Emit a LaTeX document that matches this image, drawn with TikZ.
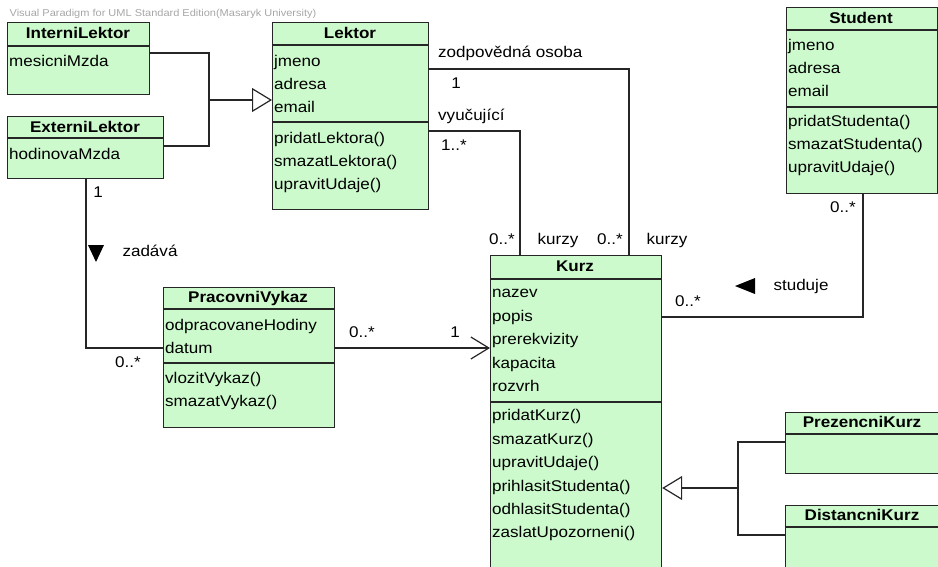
\documentclass[tikz,border=0pt]{standalone}
\usepackage{fontspec}
\setmainfont{Liberation Sans}[FakeStretch=1.1]
\usetikzlibrary{arrows.meta}
\definecolor{zelena}{RGB}{204,250,204}

\begin{document}
\fontsize{15.5}{18}\selectfont
\begin{tikzpicture}[x=1pt,y=-1pt,
  trida/.style={draw=black!85, fill=zelena, line width=1.2pt, anchor=north west, inner sep=0pt},
  nazev/.style={font=\bfseries, inner sep=0pt, text height=11pt, text depth=3pt},
  polozka/.style={anchor=west, inner sep=0pt, text height=11pt, text depth=3pt},
  pozn/.style={inner sep=0pt, text height=11pt, text depth=3pt},
  spoj/.style={line width=1.2pt, black!85},
  dedi/.style={spoj, -{Triangle[open, length=20pt, width=24pt]}}]
\useasboundingbox (0,0) rectangle (938,566);
% hlavicka
\node[font=\fontsize{10}{12}\selectfont, text=black!35, inner sep=0pt] (vp) at (163,14) {Visual Paradigm for UML Standard Edition(Masaryk University)};

% InterniLektor
\node[trida, minimum width=142pt, minimum height=72pt] (IL) at (7,22) {};
\draw[spoj] (7,46) -- (149,46);
\node[nazev] (ILn) at (78,34) {InterniLektor};
\node[polozka] (ILa) at (9,62) {mesicniMzda};

% ExterniLektor
\node[trida, minimum width=156pt, minimum height=62pt] (EL) at (7,116) {};
\draw[spoj] (7,138) -- (163,138);
\node[nazev] (ELn) at (85,128) {ExterniLektor};
\node[polozka] (ELa) at (9,155) {hodinovaMzda};

% Lektor
\node[trida, minimum width=156pt, minimum height=187pt] (LK) at (272,22) {};
\draw[spoj] (272,45) -- (428,45);
\draw[spoj] (272,122) -- (428,122);
\node[nazev] (LKn) at (350,34) {Lektor};
\node[polozka] (LKa) at (274,62) {jmeno};
\node[polozka] (LKb) at (274,85) {adresa};
\node[polozka] (LKc) at (274,108) {email};
\node[polozka] (LKd) at (274,139) {pridatLektora()};
\node[polozka] (LKe) at (274,162) {smazatLektora()};
\node[polozka] (LKf) at (274,185) {upravitUdaje()};

% Student
\node[trida, minimum width=151pt, minimum height=186pt] (ST) at (786,7) {};
\draw[spoj] (786,30) -- (937,30);
\draw[spoj] (786,107) -- (937,107);
\node[nazev] (STn) at (861,19) {Student};
\node[polozka] (STa) at (788,46) {jmeno};
\node[polozka] (STb) at (788,69) {adresa};
\node[polozka] (STc) at (788,92) {email};
\node[polozka] (STd) at (788,122) {pridatStudenta()};
\node[polozka] (STe) at (788,145) {smazatStudenta()};
\node[polozka] (STf) at (788,168) {upravitUdaje()};

% Kurz
\node[trida, minimum width=171pt, minimum height=315pt] (KZ) at (490,255) {};
\draw[spoj] (490,279) -- (661,279);
\draw[spoj] (490,402) -- (661,402);
\node[nazev] (KZn) at (575,267) {Kurz};
\node[polozka] (KZa) at (492,293) {nazev};
\node[polozka] (KZb) at (492,317) {popis};
\node[polozka] (KZc) at (492,340) {prerekvizity};
\node[polozka] (KZd) at (492,364) {kapacita};
\node[polozka] (KZe) at (492,387) {rozvrh};
\node[polozka] (KZf) at (492,416) {pridatKurz()};
\node[polozka] (KZg) at (492,440) {smazatKurz()};
\node[polozka] (KZh) at (492,463) {upravitUdaje()};
\node[polozka] (KZi) at (492,487) {prihlasitStudenta()};
\node[polozka] (KZj) at (492,510) {odhlasitStudenta()};
\node[polozka] (KZk) at (492,533) {zaslatUpozorneni()};

% PracovniVykaz
\node[trida, minimum width=171pt, minimum height=140pt] (PV) at (163,287) {};
\draw[spoj] (163,309) -- (334,309);
\draw[spoj] (163,363) -- (334,363);
\node[nazev] (PVn) at (248,298) {PracovniVykaz};
\node[polozka] (PVa) at (165,326) {odpracovaneHodiny};
\node[polozka] (PVb) at (165,349) {datum};
\node[polozka] (PVc) at (165,379) {vlozitVykaz()};
\node[polozka] (PVd) at (165,402) {smazatVykaz()};

% PrezencniKurz, DistancniKurz
\node[trida, minimum width=155pt, minimum height=61pt] (PK) at (785,412) {};
\draw[spoj] (785,434) -- (940,434);
\node[nazev] (PKn) at (862,423) {PrezencniKurz};
\node[trida, minimum width=155pt, minimum height=65pt] (DK) at (785,505) {};
\draw[spoj] (785,527) -- (940,527);
\node[nazev] (DKn) at (862,516) {DistancniKurz};

% dedicnost
\coordinate (gL) at (209,100);
\draw[spoj] ([yshift=-31pt]IL.north east) -| (gL);
\draw[spoj] ([yshift=-30pt]EL.north east) -| (gL);
\draw[dedi] (gL) -- (gL -| LK.west);
\coordinate (gK) at (738,488);
\draw[spoj] ([yshift=-30pt]PK.north west) -| (gK);
\draw[spoj] ([yshift=-30pt]DK.north west) -| (gK);
\draw[dedi] (gK) -- (gK -| KZ.east);

% asociace
\draw[spoj] ([yshift=-47pt]LK.north east) -| ([xshift=139pt]KZ.north west);
\node[pozn, anchor=west] (r1) at (438,53) {zodpovědná osoba};
\node[pozn] (m1) at (456,84) {1};
\draw[spoj] ([yshift=-109pt]LK.north east) -| ([xshift=30pt]KZ.north west);
\node[pozn, anchor=west] (r2) at (438,116) {vyučující};
\node[pozn, anchor=west] (m2) at (441,146) {1..*};
\node[pozn] (m3) at (502,240) {0..*};
\node[pozn] (r3) at (558,240) {kurzy};
\node[pozn] (m4) at (610,240) {0..*};
\node[pozn] (r4) at (667,240) {kurzy};

\draw[spoj] ([yshift=-62pt]KZ.north east) -| ([xshift=77pt]ST.south west);
\node[pozn] (m5) at (843,208) {0..*};
\node[pozn] (m6) at (688,302) {0..*};
\fill[black] (735,286) -- (755,278) -- (755,294) -- cycle;
\node[pozn] (r5) at (801,286) {studuje};

\draw[spoj] ([xshift=79pt]EL.south west) |- ([yshift=-61pt]PV.north west);
\node[pozn] (m7) at (98,193) {1};
\node[pozn] (m8) at (128,363) {0..*};
\fill[black] (88,245) -- (104,245) -- (96,262) -- cycle;
\node[pozn] (r6) at (150,252) {zadává};

\draw[spoj, -{Straight Barb[length=18pt, width=22pt]}] ([yshift=-61pt]PV.north east) -- ([yshift=-61pt]PV.north east -| KZ.west);
\node[pozn] (m9) at (362,333) {0..*};
\node[pozn] (m10) at (455,333) {1};
\end{tikzpicture}
\end{document}
